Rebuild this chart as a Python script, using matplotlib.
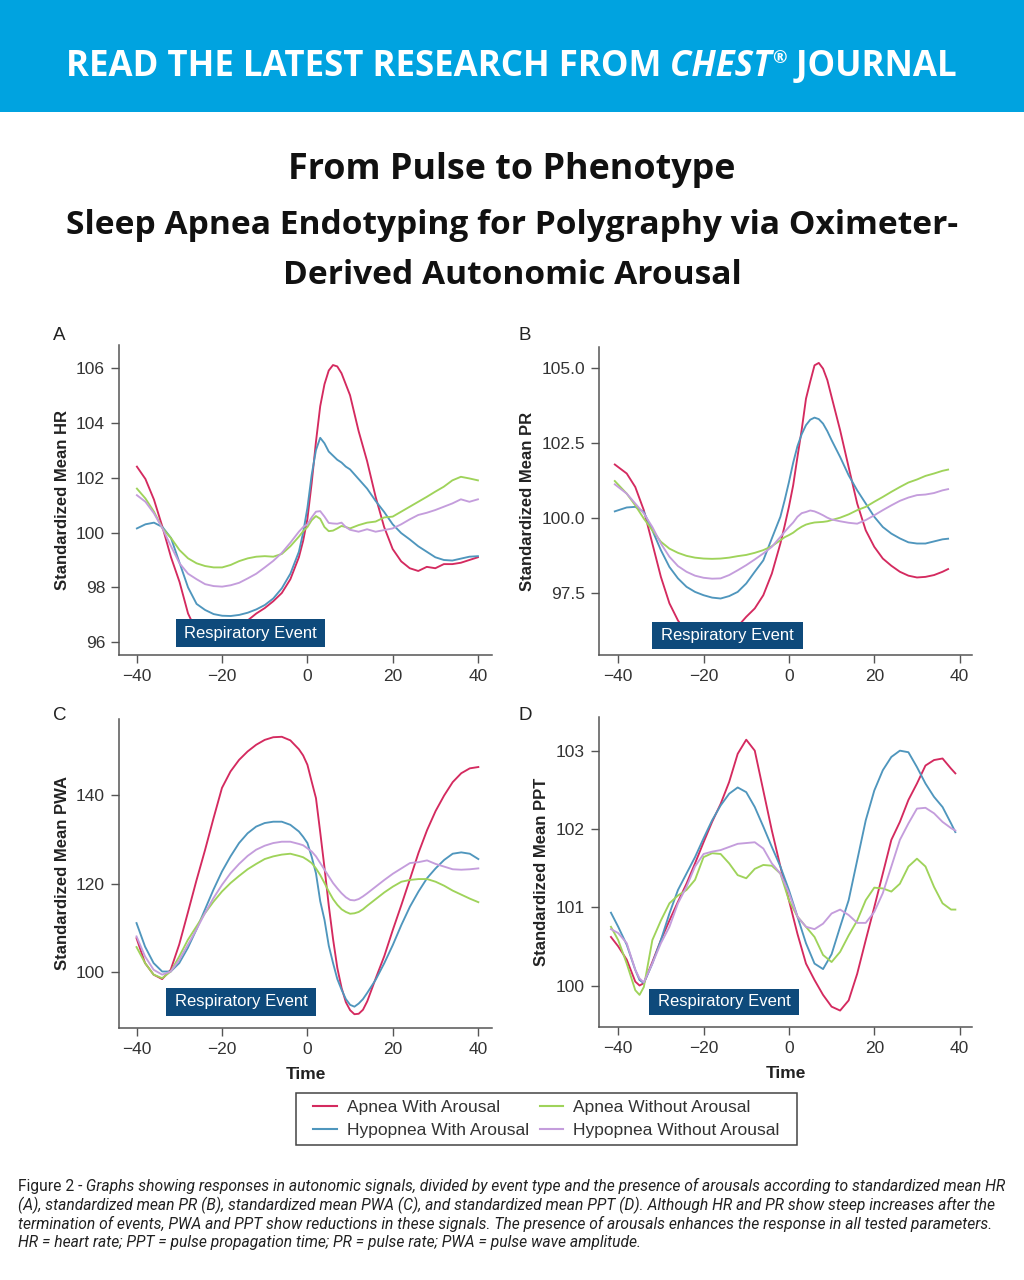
import numpy as np
import matplotlib
matplotlib.use('Agg')
import matplotlib.pyplot as plt
from matplotlib.patches import Rectangle
from matplotlib.lines import Line2D

# ---- data ----
labels = ['Apnea With Arousal', 'Hypopnea With Arousal',
          'Apnea Without Arousal', 'Hypopnea Without Arousal']
colors = ['#d42a5f', '#4f96bd', '#9fd35a', '#c49ddc']

# A: heart rate
hr_t = [-40, -38, -36, -34, -32, -30, -28, -26, -24, -22, -20, -18, -16, -14, -12, -10, -8, -6, -4, -2,
        -1, 0, 1, 2, 3, 4, 5, 6, 7, 8, 9, 10,
        12, 14, 16, 18, 20, 22, 24, 26, 28, 30, 32, 34, 36, 38, 40]
hr_apnea_ar = [102.4, 101.95, 101.2, 100.2, 99.1, 98.2, 97.05, 96.4, 96.0, 95.9, 95.9, 96.1, 96.5, 96.8, 97.05, 97.25, 97.5, 97.8, 98.3, 99.1,
               99.7, 100.5, 101.8, 103.3, 104.6, 105.4, 105.9, 106.1, 106.05, 105.8, 105.4, 105.0,
               103.7, 102.6, 101.3, 100.2, 99.4, 98.95, 98.7, 98.6, 98.75, 98.7, 98.85, 98.85, 98.9, 99.0, 99.1]
hr_hypop_ar = [100.15, 100.3, 100.36, 100.2, 99.8, 98.9, 98.0, 97.4, 97.18, 97.03, 96.97, 96.96, 97.0, 97.08, 97.2, 97.36, 97.6, 97.97, 98.5, 99.3,
               100.0, 100.9, 102.1, 103.0, 103.45, 103.25, 102.95, 102.8, 102.65, 102.55, 102.4, 102.3,
               101.95, 101.6, 101.15, 100.75, 100.3, 99.98, 99.75, 99.5, 99.3, 99.1, 99.0, 98.98, 99.05, 99.12, 99.14]
hr_apnea_noar = [101.6, 101.24, 100.76, 100.15, 99.8, 99.36, 99.06, 98.88, 98.78, 98.73, 98.73, 98.82, 98.96, 99.06, 99.12, 99.14, 99.12, 99.22, 99.5, 99.85,
                 100.05, 100.2, 100.45, 100.6, 100.5, 100.2, 100.05, 100.07, 100.15, 100.24, 100.2, 100.15,
                 100.27, 100.36, 100.4, 100.55, 100.58, 100.76, 100.94, 101.12, 101.3, 101.49, 101.67, 101.9, 102.03, 101.97, 101.9]
hr_hypop_noar = [101.36, 101.12, 100.7, 100.15, 99.5, 98.88, 98.5, 98.3, 98.12, 98.05, 98.03, 98.08, 98.17, 98.33, 98.5, 98.73, 98.97, 99.26, 99.63, 100.03,
                 100.2, 100.3, 100.55, 100.76, 100.78, 100.58, 100.35, 100.33, 100.32, 100.36, 100.2, 100.1,
                 100.03, 100.12, 100.03, 100.09, 100.15, 100.3, 100.48, 100.64, 100.72, 100.82, 100.94, 101.06, 101.21, 101.12, 101.21]

# B: pulse rate
pr_t = [-40.8, -38, -36, -34, -32, -30, -28, -26, -24, -22, -20, -18, -16, -14, -12, -10, -8, -6, -4, -2,
        -1, 0, 1, 2, 3, 4, 5, 6, 7, 8, 9, 10,
        12, 14, 16, 18, 20, 22, 24, 26, 28, 30, 32, 34, 36, 37.3]
pr_apnea_ar = [101.79, 101.49, 101.04, 100.27, 99.16, 98.05, 97.17, 96.6, 96.2, 95.95, 95.85, 95.85, 95.95, 96.15, 96.4, 96.72, 97.0, 97.44, 98.16, 99.16,
               99.75, 100.38, 101.1, 102.04, 102.95, 103.98, 104.55, 105.09, 105.17, 104.98, 104.6, 104.04,
               102.93, 101.7, 100.49, 99.6, 99.05, 98.66, 98.42, 98.22, 98.09, 98.03, 98.05, 98.11, 98.22, 98.31]
pr_hypop_ar = [100.23, 100.36, 100.38, 100.21, 99.6, 98.94, 98.38, 98.0, 97.72, 97.55, 97.44, 97.36, 97.33, 97.41, 97.55, 97.83, 98.22, 98.6, 99.33, 100.05,
               100.6, 101.2, 101.85, 102.4, 102.8, 103.1, 103.28, 103.35, 103.3, 103.15, 102.9, 102.6,
               102.04, 101.43, 100.93, 100.49, 100.05, 99.71, 99.49, 99.33, 99.2, 99.16, 99.16, 99.23, 99.3, 99.32]
pr_apnea_noar = [101.24, 100.82, 100.43, 99.99, 99.6, 99.22, 98.99, 98.85, 98.75, 98.69, 98.66, 98.65, 98.66, 98.69, 98.74, 98.78, 98.85, 98.94, 99.07, 99.27,
                 99.37, 99.44, 99.52, 99.63, 99.72, 99.79, 99.83, 99.86, 99.87, 99.88, 99.9, 99.94,
                 100.02, 100.13, 100.27, 100.38, 100.55, 100.71, 100.88, 101.04, 101.19, 101.29, 101.41, 101.49, 101.58, 101.62]
pr_hypop_noar = [101.13, 100.82, 100.49, 100.16, 99.71, 99.16, 98.72, 98.41, 98.22, 98.09, 98.02, 97.99, 98.0, 98.11, 98.27, 98.44, 98.63, 98.83, 99.05, 99.38,
                 99.55, 99.71, 99.86, 100.05, 100.17, 100.21, 100.26, 100.23, 100.17, 100.1, 100.02, 99.96,
                 99.9, 99.85, 99.82, 99.94, 100.1, 100.27, 100.43, 100.58, 100.69, 100.77, 100.79, 100.84, 100.93, 100.97]

# C: pulse wave amplitude
pwa_t = [-40, -38, -36, -34, -32, -30, -28, -26, -24, -22, -20, -18, -16, -14, -12, -10, -8, -6, -4, -2,
         -1, 0, 1, 2, 3, 4, 5, 6, 7, 8, 9, 10, 11, 12, 13, 14,
         16, 18, 20, 22, 24, 26, 28, 30, 32, 34, 36, 38, 40]
pwa_apnea_ar = [107.7, 102.1, 99.5, 98.5, 100.6, 106.3, 113.4, 120.6, 127.4, 134.6, 141.5, 145.2, 147.8, 149.7, 151.2, 152.3, 152.9, 153.0, 152.2, 150.2,
                148.8, 146.7, 142.9, 139.2, 131.5, 123.5, 115.0, 107.5, 101.0, 96.5, 93.3, 91.5, 90.6, 90.7, 91.6, 93.5,
                98.7, 103.7, 109.6, 115.2, 121.0, 126.9, 132.0, 136.3, 139.8, 142.8, 144.8, 145.9, 146.2]
pwa_hypop_ar = [111.1, 105.8, 102.1, 100.2, 100.2, 102.1, 105.5, 109.6, 114.1, 118.6, 122.7, 126.1, 129.1, 131.3, 132.8, 133.6, 133.9, 133.9, 133.2, 131.7,
                130.5, 129.1, 126.0, 122.3, 116.0, 111.8, 106.0, 102.1, 98.5, 96.1, 94.0, 92.7, 92.3, 93.0, 94.0, 95.4,
                98.4, 102.1, 106.2, 110.7, 114.8, 118.2, 121.2, 123.4, 125.3, 126.7, 127.0, 126.7, 125.5]
pwa_apnea_noar = [105.7, 102.1, 99.5, 98.7, 100.2, 103.6, 107.3, 110.3, 113.3, 115.9, 118.2, 120.1, 121.7, 123.2, 124.4, 125.5, 126.1, 126.5, 126.7, 126.2,
                  125.9, 125.3, 124.6, 123.4, 121.9, 120.1, 118.2, 116.5, 115.2, 114.2, 113.6, 113.2, 113.3, 113.6, 114.2, 115.0,
                  116.5, 118.0, 119.3, 120.4, 120.8, 121.0, 121.0, 120.4, 119.5, 118.4, 117.5, 116.6, 115.8]
pwa_hypop_noar = [108.1, 103.6, 100.6, 99.5, 100.2, 102.8, 106.2, 109.6, 113.3, 116.7, 119.7, 122.3, 124.4, 126.2, 127.6, 128.5, 129.1, 129.4, 129.4, 128.9,
                  128.6, 127.9, 127.2, 126.1, 124.6, 123.1, 121.6, 120.1, 118.9, 117.8, 116.9, 116.3, 116.2, 116.5, 117.1, 117.8,
                  119.3, 120.8, 122.2, 123.4, 124.6, 124.8, 125.2, 124.4, 123.8, 123.2, 123.1, 123.2, 123.4]

# D: pulse propagation time
ppt_t = [-41.7, -40, -38, -36, -35, -34,
         -32, -30, -28, -26, -24, -22, -20, -18, -16, -14, -12, -10, -8, -6, -4, -2,
         0, 2, 4, 6, 8, 10, 12, 14, 16, 18, 20, 22, 24, 26, 28, 30, 32, 34, 36, 38, 39]
ppt_apnea_ar = [100.62, 100.5, 100.33, 100.05, 100.0, 100.03,
                100.3, 100.58, 100.83, 101.07, 101.3, 101.56, 101.83, 102.09, 102.32, 102.6, 102.96, 103.14, 103.0, 102.49, 101.98, 101.52,
                101.09, 100.66, 100.28, 100.07, 99.88, 99.73, 99.68, 99.81, 100.15, 100.58, 101.0, 101.43, 101.86, 102.09, 102.37, 102.58, 102.81, 102.88, 102.9, 102.77, 102.71]
ppt_hypop_ar = [100.93, 100.75, 100.52, 100.2, 100.07, 100.03,
                100.28, 100.58, 100.92, 101.22, 101.43, 101.64, 101.88, 102.11, 102.3, 102.45, 102.53, 102.47, 102.28, 102.03, 101.77, 101.52,
                101.22, 100.88, 100.54, 100.28, 100.21, 100.4, 100.75, 101.09, 101.6, 102.11, 102.49, 102.75, 102.92, 103.0, 102.98, 102.79, 102.58, 102.41, 102.28, 102.07, 101.96]
ppt_apnea_noar = [100.75, 100.58, 100.28, 99.94, 99.88, 99.98,
                  100.58, 100.83, 101.05, 101.15, 101.22, 101.35, 101.64, 101.69, 101.68, 101.56, 101.41, 101.37, 101.49, 101.54, 101.53, 101.43,
                  101.09, 100.88, 100.75, 100.62, 100.39, 100.3, 100.43, 100.64, 100.83, 101.09, 101.25, 101.24, 101.2, 101.3, 101.52, 101.62, 101.52, 101.26, 101.05, 100.97, 100.97]
ppt_hypop_noar = [100.72, 100.67, 100.54, 100.2, 100.09, 100.04,
                  100.28, 100.54, 100.75, 101.05, 101.26, 101.52, 101.68, 101.71, 101.73, 101.77, 101.81, 101.82, 101.83, 101.75, 101.56, 101.43,
                  101.18, 100.88, 100.75, 100.72, 100.79, 100.92, 100.97, 100.9, 100.8, 100.8, 100.94, 101.18, 101.52, 101.86, 102.07, 102.26, 102.27, 102.2, 102.09, 102.01, 101.98]

x_ticks = [-40, -20, 0, 20, 40]

CHART_FONT = 'Liberation Sans'
TXT = '#333333'
AXC = '#555555'
BOX = '#0e4a7b'

fig = plt.figure(figsize=(10.24, 12.8), dpi=100)
renderer = fig.canvas.get_renderer()
W, H = 1024.0, 1280.0


def px_axes(left, top, right, bottom):
    return fig.add_axes([left / W, 1 - bottom / H, (right - left) / W, (bottom - top) / H])


panels = [
    # letter, letter pos(px), rect(px), t, series, xlim, ylim, yticks, fmt, ylabel, ylabel_x, box, show_time
    ('A', (53, 336), (119, 345, 492, 655), hr_t, [hr_apnea_ar, hr_hypop_ar, hr_apnea_noar, hr_hypop_noar],
     (-44.2, 43.3), (95.54, 106.83), [96, 98, 100, 102, 104, 106], None,
     'Standardized Mean HR', -0.131, (-30.8, 95.83, 35.0, 1.02), False),
    ('B', (519, 335), (599, 347, 972, 655), pr_t, [pr_apnea_ar, pr_hypop_ar, pr_apnea_noar, pr_hypop_noar],
     (-44.5, 42.9), (95.45, 105.7), [97.5, 100.0, 102.5, 105.0], '{:.1f}',
     'Standardized Mean PR', -0.172, (-32.1, 95.65, 35.5, 0.91), False),
    ('C', (53, 716), (119, 719, 492, 1028), pwa_t, [pwa_apnea_ar, pwa_hypop_ar, pwa_apnea_noar, pwa_hypop_noar],
     (-44.1, 43.2), (87.5, 157.0), [100, 120, 140], None,
     'Standardized Mean PWA', -0.131, (-33.0, 90.3, 34.9, 6.3), True),
    ('D', (519, 716), (599, 717, 972, 1027), ppt_t, [ppt_apnea_ar, ppt_hypop_ar, ppt_apnea_noar, ppt_hypop_noar],
     (-44.5, 42.9), (99.47, 103.43), [100, 101, 102, 103], None,
     'Standardized Mean PPT', -0.134, (-32.8, 99.62, 35.2, 0.34), True),
]

for (letter, lpos, rect, t, series, xlim, ylim, yticks, yfmt, ylab, ylab_x, box, show_time) in panels:
    ax = px_axes(*rect)
    for vals, c in zip(series, colors):
        ax.plot(t, vals, color=c, lw=1.35, zorder=3)
    ax.set_xlim(*xlim)
    ax.set_ylim(*ylim)
    ax.set_xticks(x_ticks)
    ax.set_yticks(yticks)
    if yfmt:
        ax.set_yticklabels([yfmt.format(v) for v in yticks])
    for s in ['top', 'right']:
        ax.spines[s].set_visible(False)
    for s in ['left', 'bottom']:
        ax.spines[s].set_color(AXC)
        ax.spines[s].set_linewidth(1.1)
    ax.tick_params(direction='out', length=6, width=1, color=AXC, labelcolor=TXT,
                   labelsize=12.5, pad=4)
    for lab in ax.get_xticklabels() + ax.get_yticklabels():
        lab.set_family(CHART_FONT)
    ax.set_facecolor('none')
    ax.set_ylabel(ylab, fontsize=12, fontweight='bold', family=CHART_FONT, color='#222222')
    ax.yaxis.set_label_coords(ylab_x, 0.5)
    if show_time:
        ax.set_xlabel('Time', fontsize=12.5, fontweight='bold', family=CHART_FONT, color='#222222')
        ax.xaxis.set_label_coords(0.5, -0.125)
    bx, by, bw, bh = box
    ax.add_patch(Rectangle((bx, by), bw, bh, facecolor=BOX, edgecolor='none', zorder=5))
    ax.text(bx + bw / 2, by + bh / 2, 'Respiratory Event', color='white', ha='center', va='center',
            fontsize=12, family=CHART_FONT, zorder=6)
    fig.text(lpos[0] / W, 1 - lpos[1] / H, letter, fontsize=13.5, family=CHART_FONT,
             color='#222222', ha='left', va='center')

# ---- legend (frame drawn separately) ----
handles = [Line2D([0], [0], color=c, lw=1.5) for c in colors]
leg = fig.legend(handles, labels, ncol=2, loc='center', bbox_to_anchor=(546.5 / W, 1 - 1119 / H),
                 frameon=False, handlelength=1.35,
                 columnspacing=0.6, labelspacing=0.45, handletextpad=0.6, borderpad=0.3,
                 borderaxespad=0, prop={'family': CHART_FONT, 'size': 12.5})
for tx in leg.get_texts():
    tx.set_color(TXT)
fig.add_artist(Rectangle((296 / W, 1 - 1145 / H), (797 - 296) / W, (1145 - 1093) / H,
                         transform=fig.transFigure, facecolor='none', edgecolor='#444444', lw=1.1))


# ---- banner, titles, caption ----
def fit_width(t, target):
    w = t.get_window_extent(renderer).width
    t.set_fontsize(t.get_fontsize() * target / w)
    return t


fig.add_artist(Rectangle((0, 1 - 112 / H), 1, 112 / H, transform=fig.transFigure,
                         facecolor='#00a3e0', edgecolor='none', zorder=0))

HFONT = 'Open Sans'
hs = 27
parts = [('READ THE LATEST RESEARCH FROM', 'normal', 1.0, 0.0),
         (' CHEST', 'italic', 1.0, 0.0),
         ('®', 'normal', 0.5, 9.0),
         (' JOURNAL', 'normal', 1.0, 0.0)]
hy = 1 - 67 / H
objs = []
for s, st, scale, lift in parts:
    o = fig.text(0, hy + lift / H, s, color='white', fontsize=hs * scale, fontweight='bold',
                 style=st, family=HFONT, ha='left', va='center')
    objs.append(o)
widths = [o.get_window_extent(renderer).width for o in objs]
k = 892.0 / sum(widths)
for o in objs:
    o.set_fontsize(o.get_fontsize() * k)
widths = [o.get_window_extent(renderer).width for o in objs]
x = 66.0
for o, w in zip(objs, widths):
    o.set_x(x / W)
    x += w

TFONT = 'Open Sans'
t1 = fig.text(0.5, 1 - 170 / H, 'From Pulse to Phenotype', ha='center', va='center',
              fontsize=26, fontweight='bold', family=TFONT, color='#111111')
fit_width(t1, 449)
t2 = fig.text(0.5, 1 - 225 / H, 'Sleep Apnea Endotyping for Polygraphy via Oximeter-', ha='center',
              va='center', fontsize=24, fontweight='bold', family=TFONT, color='#111111')
fit_width(t2, 892)
fig.text(0.5, 1 - 275 / H, 'Derived Autonomic Arousal', ha='center', va='center',
         fontsize=t2.get_fontsize(), fontweight='bold', family=TFONT, color='#111111')

CFONT = 'Roboto'
cap_lines = [
    'Graphs showing responses in autonomic signals, divided by event type and the presence of arousals according to standardized mean HR',
    '(A), standardized mean PR (B), standardized mean PWA (C), and standardized mean PPT (D). Although HR and PR show steep increases after the',
    'termination of events, PWA and PPT show reductions in these signals. The presence of arousals enhances the response in all tested parameters.',
    'HR = heart rate; PPT = pulse propagation time; PR = pulse rate; PWA = pulse wave amplitude.',
]
cap_y = [1186, 1205, 1224, 1243]
pre = fig.text(18 / W, 1 - cap_y[0] / H, 'Figure 2 -', ha='left', va='center', fontsize=11,
               family=CFONT, color='#222222')
first = fig.text(0, 1 - cap_y[0] / H, ' ' + cap_lines[0], ha='left', va='center', fontsize=11,
                 family=CFONT, style='italic', color='#222222')
w_pre = pre.get_window_extent(renderer).width
w_first = first.get_window_extent(renderer).width
k = 987.0 / (w_pre + w_first)
cfs = 11 * k
pre.set_fontsize(cfs)
first.set_fontsize(cfs)
w_pre = pre.get_window_extent(renderer).width
first.set_x((18 + w_pre) / W)
for s, yy in zip(cap_lines[1:], cap_y[1:]):
    fig.text(18 / W, 1 - yy / H, s, ha='left', va='center', fontsize=cfs, family=CFONT,
             style='italic', color='#222222')

fig.savefig('out.png', dpi=100)
